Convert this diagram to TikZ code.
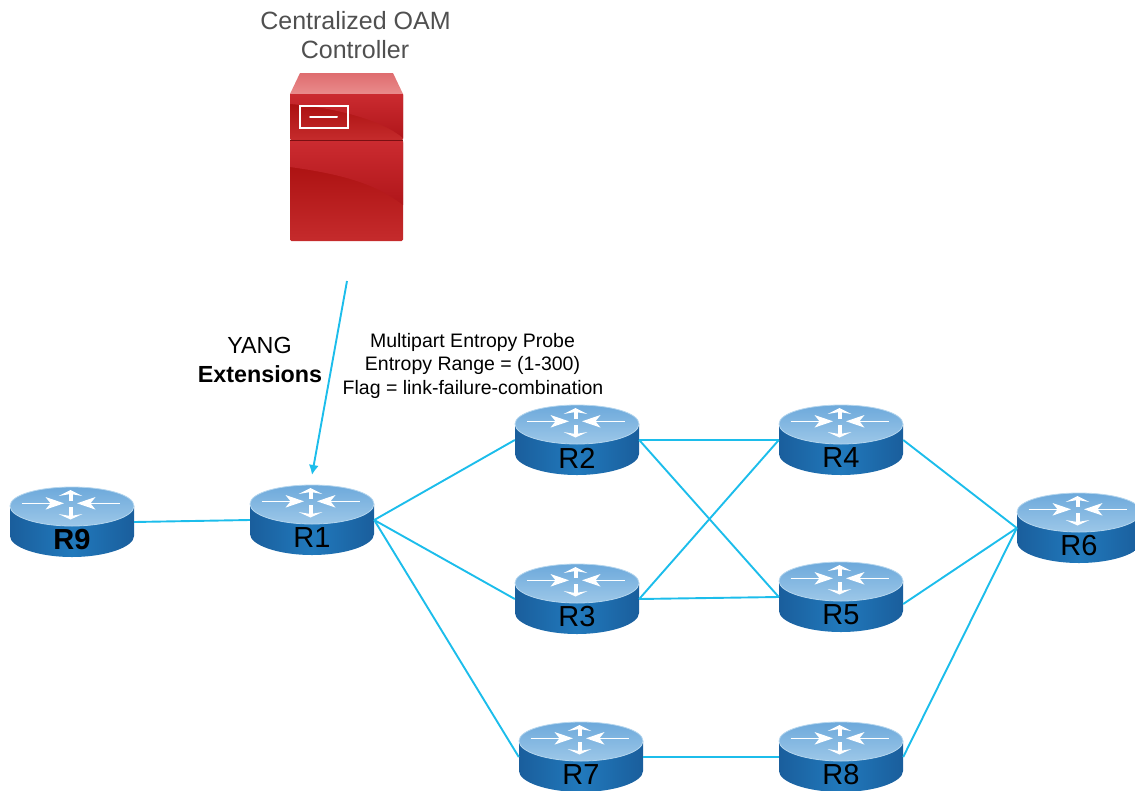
\documentclass[tikz,border=0pt]{standalone}
\usepackage{fontspec}
\usetikzlibrary{arrows.meta}
\setmainfont{Liberation Sans}
\definecolor{linkc}{HTML}{1CBDEB}
\definecolor{rdark}{HTML}{1A5E9C}
\definecolor{rmid}{HTML}{2179BC}
\definecolor{rtopa}{HTML}{6DA9DB}
\definecolor{rtopb}{HTML}{9CC7E8}
\definecolor{rrim}{HTML}{B5D6EE}
\definecolor{srva}{HTML}{CB2B30}
\definecolor{srvb}{HTML}{B0161A}
\definecolor{srvc}{HTML}{A50A0A}
\definecolor{srvd}{HTML}{C52B2C}
\definecolor{srvtopa}{HTML}{DF6C6F}
\definecolor{srvtopb}{HTML}{E98C8C}
\definecolor{txtgray}{HTML}{505050}
\tikzset{
  x=1pt,y=-1pt,
  link/.style={draw=linkc,line width=1.9pt},
  routerbox/.style={rectangle,minimum width=124pt,minimum height=70pt,inner sep=0pt},
  routertext/.style={font=\fontsize{29}{29}\selectfont,text=black,inner sep=0pt,anchor=center},
  rshaft/.style={draw=white,line width=1.5pt},
  rstem/.style={draw=white,line width=4pt},
  rhead/.style={fill=white},
  toptext/.style={font=\fontsize{25}{25}\selectfont,text=txtgray,inner sep=0pt,anchor=base},
  midtext/.style={font=\fontsize{23.3}{23.3}\selectfont,text=black,inner sep=0pt,anchor=base},
  probetext/.style={font=\fontsize{19.5}{19.5}\selectfont,text=black,inner sep=0pt,anchor=base}
}
\newcommand{\routerdraw}[4]{%
  % name, x, y, label
  \begin{scope}[shift={(#2,#3)}]
    \shade[left color=rdark,right color=rdark,middle color=rmid]
      (-62,-16) -- (-62,14) .. controls (-62,25) and (-34,35) .. (0,35)
      .. controls (34,35) and (62,25) .. (62,14) -- (62,-16) -- cycle;
    \shade[top color=rtopa,bottom color=rtopb,draw=rrim,line width=.8pt]
      (-62,-16) .. controls (-62,-27) and (-34,-35) .. (0,-35)
      .. controls (34,-35) and (62,-27) .. (62,-16)
      .. controls (62,-5) and (34,4) .. (0,4)
      .. controls (-34,4) and (-62,-5) .. (-62,-16) -- cycle;
    \begin{scope}[shift={(-1.5,0)}]
      \draw[rstem] (0,-21) -- (0,-29);
      \fill[rhead] (0,-32) -- (12,-26) -- (0,-28) -- (-12,-26) -- cycle;
      \draw[rshaft] (-49,-18.7) -- (-12,-18.7);
      \fill[rhead] (-6.5,-18.7) -- (-25,-25) -- (-20,-18.7) -- (-25,-12.4) -- cycle;
      \draw[rshaft] (49,-18.7) -- (12,-18.7);
      \fill[rhead] (6.5,-18.7) -- (25,-25) -- (20,-18.7) -- (25,-12.4) -- cycle;
      \draw[rstem] (0,-15) -- (0,-6);
      \fill[rhead] (0,-2.5) -- (12,-8) -- (0,-6) -- (-12,-8) -- cycle;
    \end{scope}
  \end{scope}
  \node[routerbox] (#1) at (#2,#3) {};
  \node[routertext] (#1t) at (#2,#3+18) {#4};
}
\begin{document}
\begin{tikzpicture}
\useasboundingbox (0,0) rectangle (1135,790);

% routers
\routerdraw{r9}{72}{522}{\textbf{R9}}
\routerdraw{r1}{312}{520}{R1}
\routerdraw{r2}{577}{440}{R2}
\routerdraw{r3}{577}{599}{R3}
\routerdraw{r4}{841}{440}{R4}
\routerdraw{r5}{841}{597}{R5}
\routerdraw{r6}{1079}{528}{R6}
\routerdraw{r7}{581}{757}{R7}
\routerdraw{r8}{841}{757}{R8}

% links
\draw[link] (r9.east) -- (r1.west);
\draw[link] (r1.east) -- (r2.west);
\draw[link] (r1.east) -- (r3.west);
\draw[link] (r1.east) -- (r7.west);
\draw[link] (r2.east) -- (r4.west);
\draw[link] (r2.east) -- (r5.west);
\draw[link] (r3.east) -- (r4.west);
\draw[link] (r3.east) -- (r5.west);
\draw[link] (r4.east) -- (r6.west);
\draw[link] ([yshift=-7pt]r5.east) -- (r6.west);
\draw[link] (r7.east) -- (r8.west);
\draw[link] (r8.east) -- (r6.west);

% server
\shade[top color=srvtopa,bottom color=srvtopb] (300,73) -- (393,73) -- (403,94) -- (290,94) -- cycle;
\shade[top color=srvc,bottom color=srvd,rounded corners=1pt] (290,94) rectangle (403,140);
\shade[top color=srva,bottom color=srvb] (290,94) -- (403,94) -- (403,138) .. controls (385,122) and (340,108) .. (290,104) -- cycle;
\shade[top color=srvc,bottom color=srvd,rounded corners=1.5pt] (290,141) rectangle (403,241);
\shade[top color=srva,bottom color=srvb] (290,141) -- (403,141) -- (403,205) .. controls (375,183) and (340,174) .. (290,167) -- cycle;
\draw[draw=srvb!70!black,line width=1pt] (290,140.5) -- (403,140.5);
\draw[draw=white,line width=2pt] (300,106) rectangle (347.5,128);
\draw[draw=white,line width=2pt,line cap=round] (310,117) -- (337,117);
\node[inner sep=0pt,minimum width=113pt,minimum height=168pt] (ctrl) at (346.5,157) {};

% labels
\node[toptext] (t1) at (355.5,29) {Centralized OAM};
\node[toptext] (t2) at (355,58.5) {Controller};
\node[midtext] (y1) at (259.5,353) {YANG};
\node[midtext] (y2) at (260,382) {\textbf{Extensions}};
\node[probetext] (p1) at (472.5,347) {Multipart Entropy Probe};
\node[probetext] (p2) at (472.5,370) {Entropy Range = (1-300)};
\node[probetext] (p3) at (473,394) {Flag = link-failure-combination};

% arrow
\coordinate (yangstart) at (347,281);
\coordinate (yangend) at (312,475);
\draw[link,-{Latex[length=10pt,width=10pt]}] (yangstart) -- (yangend);
\end{tikzpicture}
\end{document}
